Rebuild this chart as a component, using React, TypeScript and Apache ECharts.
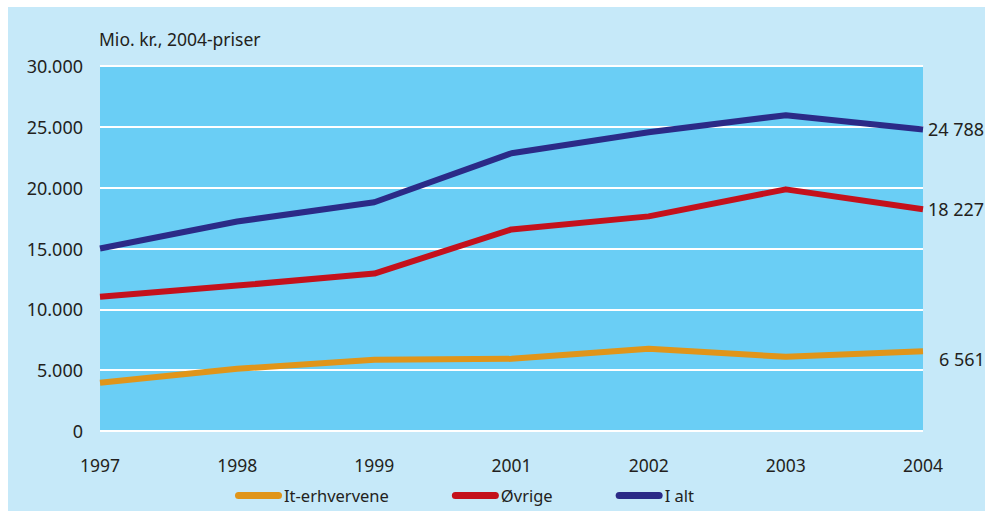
import React, { useEffect, useRef } from "react";
import * as echarts from "echarts";

const categories = ["1997", "1998", "1999", "2001", "2002", "2003", "2004"];
const itErhvervene = [3960, 5110, 5850, 5930, 6760, 6100, 6561];
const ovrige = [11040, 11950, 12940, 16570, 17640, 19860, 18227];
const iAlt = [15000, 17220, 18800, 22830, 24560, 25960, 24788];
const seriesNames = ["It-erhvervene", "Øvrige", "I alt"];
const yTicks = { min: 0, max: 30000, interval: 5000 };
const unitLabel = "Mio. kr., 2004-priser";

const FONT = "'Noto Sans', sans-serif";
const TEXT = "#231f20";

const fmtThousandsDot = (v: number) =>
  String(v).replace(/\B(?=(\d{3})+(?!\d))/g, ".");
const fmtThousandsSpace = (v: number) =>
  String(v).replace(/\B(?=(\d{3})+(?!\d))/g, " ");

const capsule =
  "path://M3.5,0 L43.5,0 A3.5,3.5 0 0 1 43.5,7 L3.5,7 A3.5,3.5 0 0 1 3.5,0 Z";

export default function App() {
  const ref = useRef<HTMLDivElement>(null);
  useEffect(() => {
    if (!ref.current) return;
    const chart = echarts.init(ref.current, undefined, { renderer: "svg" });
    const mkSeries = (name: string, data: number[], color: string, offset: number[]) => ({
      name,
      type: "line",
      data,
      symbol: "none",
      smooth: false,
      lineStyle: { color, width: 6, join: "round" },
      itemStyle: { color },
      endLabel: {
        show: true,
        distance: 5,
        offset,
        color: TEXT,
        fontFamily: FONT,
        fontSize: 18,
        formatter: (p: any) => fmtThousandsSpace(p.value),
      },
    });
    chart.setOption({
      animation: false,
      backgroundColor: "#ffffff",
      graphic: [
        {
          type: "rect",
          z: -10,
          silent: true,
          shape: { x: 8, y: 7, width: 977, height: 504 },
          style: { fill: "#c6e9f9" },
        },
      ],
      title: {
        text: unitLabel,
        left: 99,
        top: 30,
        padding: 0,
        textStyle: { fontFamily: FONT, fontSize: 17.5, fontWeight: "normal", color: TEXT },
      },
      grid: {
        left: 100,
        right: 62,
        top: 66,
        bottom: 80,
        show: true,
        backgroundColor: "#6acef5",
        borderWidth: 0,
      },
      legend: {
        data: seriesNames.map((n) => ({ name: n, icon: capsule })),
        left: 235,
        top: 487,
        itemWidth: 47,
        itemHeight: 7,
        itemGap: 63,
        padding: 0,
        textStyle: { fontFamily: FONT, fontSize: 16.5, color: TEXT, padding: [0, 0, 0, -3] },
      },
      xAxis: {
        type: "category",
        data: categories,
        boundaryGap: false,
        axisLine: { show: false },
        axisTick: { show: false },
        axisLabel: { color: TEXT, fontFamily: FONT, fontSize: 17.5, margin: 25 },
      },
      yAxis: {
        type: "value",
        min: yTicks.min,
        max: yTicks.max,
        interval: yTicks.interval,
        axisLine: { show: false },
        axisTick: { show: false },
        splitLine: { lineStyle: { color: "#ffffff", width: 2 } },
        axisLabel: {
          color: TEXT,
          fontFamily: FONT,
          fontSize: 18,
          margin: 17,
          formatter: (v: number) => fmtThousandsDot(v),
        },
      },
      series: [
        mkSeries(seriesNames[0], itErhvervene, "#e0951a", [11, 8]),
        mkSeries(seriesNames[1], ovrige, "#c4111c", [0, 0]),
        mkSeries(seriesNames[2], iAlt, "#2b2a87", [0, 0]),
      ],
    });
    return () => chart.dispose();
  }, []);
  return (
    <div
      ref={ref}
      style={{ position: "absolute", left: 0, top: 0, width: 985, height: 511 }}
    />
  );
}
